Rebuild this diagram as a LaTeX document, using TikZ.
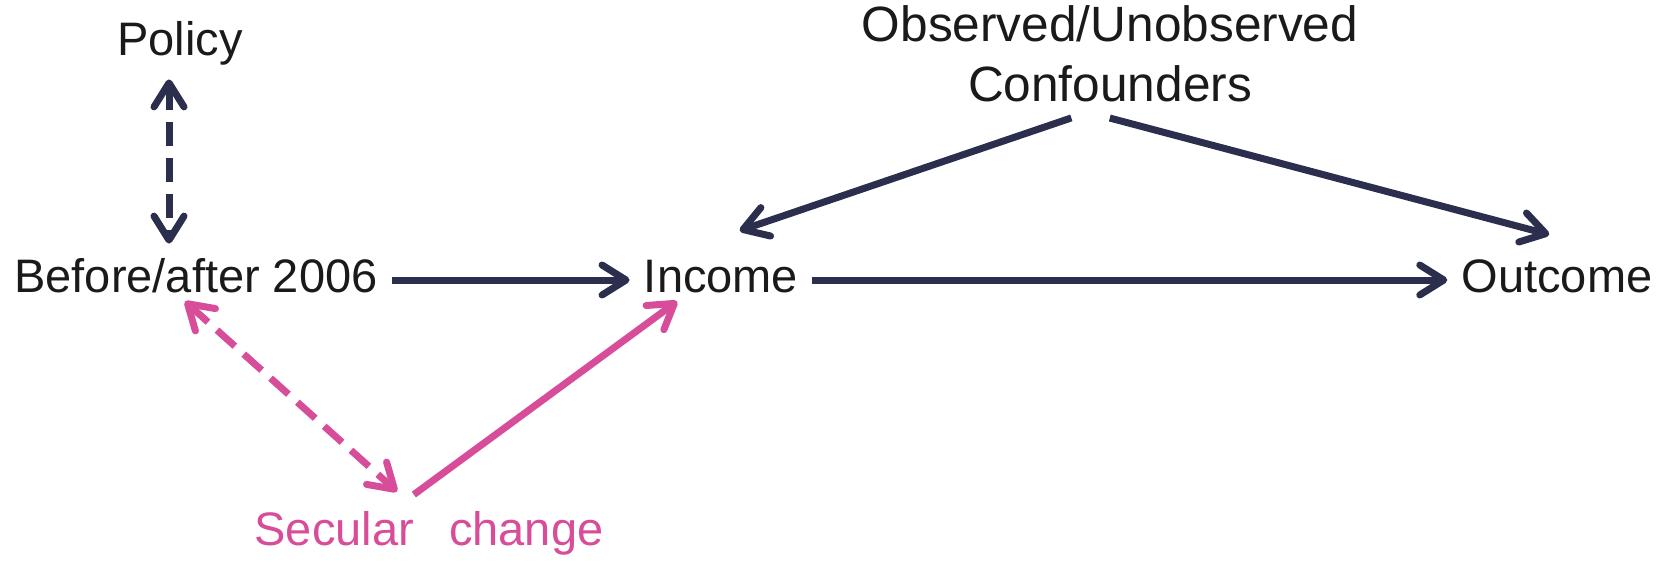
\documentclass[tikz,border=0pt]{standalone}
\usepackage{fontspec}
\setmainfont{Liberation Sans}
\usetikzlibrary{arrows.meta}

\definecolor{navy}{HTML}{2B2E4C}
\definecolor{magenta}{HTML}{D74D9A}
\definecolor{inkblack}{HTML}{1A1A1A}

\begin{document}
\begin{tikzpicture}[
        x=0.5pt, y=-0.5pt,
        >={Straight Barb[length=12pt,width=15pt,round]},
        every node/.style={font=\fontsize{23.5}{28}\selectfont, text=inkblack, inner sep=4pt},
        var/.style={text height=17pt, text depth=5pt},
        causal/.style={->, line width=3.5pt, draw=navy, shorten >=3pt, shorten <=3pt},
        assoc/.style={<->, line width=3.5pt, dash pattern=on 12pt off 6pt, shorten >=3pt, shorten <=3pt},
        secular/.style={line width=3.5pt, draw=magenta, shorten >=3pt, shorten <=3pt}
    ]
        \useasboundingbox (0,0) rectangle (1658,562);
        \node[var] (policy) at (180,43) {Policy};
        \node[var] (before) at (196,280) {Before/after 2006};
        \node[var] (income) at (721,280) {Income};
        \node[var] (outcome) at (1557,280) {Outcome};
        \node[align=center, anchor=south, font=\fontsize{24.8}{30}\selectfont] (conf) at (1110,110) {Observed/Unobserved\\Confounders};
        \node[var, text=magenta] (secchange) at (429,533) {Secular\hspace{0.75em}change};
\draw[assoc, draw=navy] ([xshift=-5.5pt]policy.south) -- ([xshift=-13.5pt]before.north);
        \draw[causal] (before) -- (income);
        \draw[causal] (income) -- (outcome);
        \draw[causal] ([xshift=-16.5pt,yshift=-3pt]conf.south) -- ([xshift=6.5pt,yshift=8.5pt]income.north);
        \draw[causal] ([xshift=-3pt,yshift=-3.25pt]conf.south) -- ([xshift=-1pt,yshift=6.75pt]outcome.north);
\draw[secular, assoc] ([xshift=-7.75pt,yshift=6.5pt]before.south) -- ([xshift=-13.75pt,yshift=3.5pt]secchange.north);
        \draw[secular, ->] ([xshift=-10pt,yshift=2.25pt]secchange.north) -- ([xshift=-19.5pt,yshift=6.3pt]income.south);
\end{tikzpicture}
\end{document}
